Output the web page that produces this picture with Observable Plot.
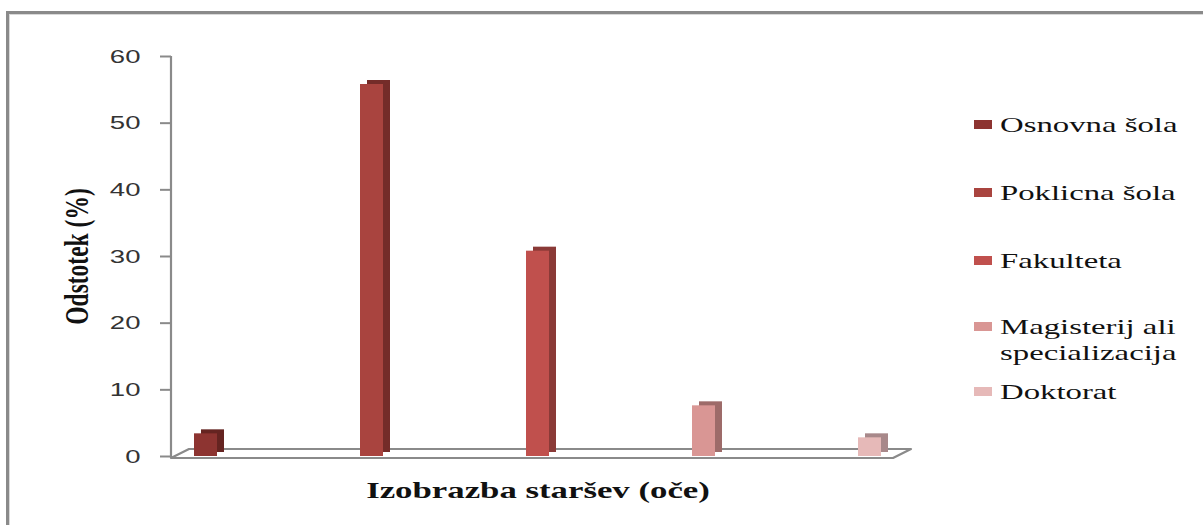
<!DOCTYPE html>
<html>
<head>
<meta charset="utf-8">
<script src="https://cdn.jsdelivr.net/npm/d3@7"></script>
<script src="https://cdn.jsdelivr.net/npm/@observablehq/plot@0.6"></script>
<style>
  html, body { margin: 0; padding: 0; background: #fff; }
  #wrap { position: relative; width: 1203px; height: 525px; overflow: hidden; background: #fff; }
  #border { position: absolute; left: 6px; top: 11px; width: 1300px; height: 600px;
            border-top: 3px solid #8a8a8a; border-left: 3px solid #8a8a8a;
            box-shadow: inset 1px 1px 0 #d9d9d9; }
  #chart { position: absolute; left: 0; top: 0; }
  .lg-item { position: absolute; left: 974px; font-family: "Liberation Serif", serif; font-size: 21px;
             line-height: 26px; color: #111; }
  .lg-sw { position: absolute; left: 0; top: 8px; width: 18px; height: 9px; }
  .lg-tx { position: absolute; left: 26px; top: 0; max-width: 125px; white-space: normal;
           transform: scaleX(1.56); transform-origin: 0 0; }
</style>
</head>
<body>
<div id="wrap">
  <div id="border"></div>
  <div id="chart"></div>
  <div id="legend"></div>
</div>
<script>
// ---- data ----
const categories = ["Osnovna šola", "Poklicna šola", "Fakulteta", "Magisterij ali specializacija", "Doktorat"];
const values = [3.4, 55.8, 30.8, 7.6, 2.8];
const yTicks = [0, 10, 20, 30, 40, 50, 60];
const xTitle = "Izobrazba staršev (oče)";
const yTitle = "Odstotek (%)";

// ---- styles ----
const frontColors = ["#8d3431", "#a9443f", "#c0504d", "#d99694", "#e6b9b8"];
const sideColors  = ["#652421", "#742c29", "#8a3a37", "#9d6b69", "#a8888a"];
const legendTops = [112, 180, 248, 314, 379];
const axisGrey = "#8a8a8a";

const data = categories.map((c, i) => ({category: c, value: values[i], i}));

function floorMark(index, scales, vals, dims) {
  const ns = "http://www.w3.org/2000/svg";
  const y0 = scales.y(0), yTop = scales.y(60);
  const xl = dims.marginLeft, xr = dims.width - dims.marginRight - 11;
  const g = document.createElementNS(ns, "g");
  const p = document.createElementNS(ns, "path");
  p.setAttribute("d", `M${xl},${yTop}V${y0 + 2}H${xr}l18,-9H${xl + 18}L${xl},${y0 + 2}`);
  p.setAttribute("fill", "none");
  p.setAttribute("stroke", axisGrey);
  p.setAttribute("stroke-width", 2.2);
  p.setAttribute("stroke-linejoin", "round");
  g.appendChild(p);
  return g;
}

const chart = Plot.plot({
  width: 1203,
  height: 525,
  marginLeft: 171,
  marginRight: 299,
  marginTop: 56,
  marginBottom: 69,
  style: {background: "transparent", overflow: "visible"},
  x: {domain: categories, paddingInner: 0.862, paddingOuter: 0.132, axis: null},
  y: {domain: [0, 60], axis: null},
  marks: [
    floorMark,
    Plot.axisY(yTicks, {
      anchor: "left", tickSize: 11, tickPadding: 20, label: null,
      stroke: axisGrey, strokeWidth: 2, fill: "#333",
      fontSize: 19, fontFamily: "Liberation Sans, sans-serif"
    }),
    Plot.barY(data, {x: "category", y: "value", fill: d => sideColors[d.i], dx: 7, dy: -4}),
    Plot.barY(data, {x: "category", y: "value", fill: d => frontColors[d.i]}),
    Plot.text([xTitle], {
      frameAnchor: "bottom", lineAnchor: "middle", textAnchor: "middle", dy: 34,
      fontSize: 23.5, fontWeight: "bold", fontFamily: "Liberation Serif, serif", fill: "#111"
    }),
    Plot.text([yTitle], {
      frameAnchor: "left", rotate: -90, dx: -94, lineAnchor: "middle", textAnchor: "middle",
      fontSize: 23.5, fontWeight: "bold", fontFamily: "Liberation Serif, serif", fill: "#111"
    })
  ]
});
document.getElementById("chart").appendChild(chart);

// horizontal stretch of glyphs about the text's own anchor point
function stretch(t, sx, sy) {
  const px = parseFloat(t.getAttribute("x")) || 0;
  const tr = t.getAttribute("transform") || "";
  t.setAttribute("transform", `${tr} translate(${px},0) scale(${sx},${sy}) translate(${-px},0)`);
}
const tickSet = new Set(yTicks.map(String));
chart.querySelectorAll("text").forEach(t => {
  const s = t.textContent.trim();
  if (s === xTitle) stretch(t, 1.48, 1);
  else if (s === yTitle) stretch(t, 1, 1.44);
  else if (tickSet.has(s)) stretch(t, 1.45, 1);
});

// ---- legend ----
const legend = document.getElementById("legend");
categories.forEach((c, i) => {
  const item = document.createElement("div");
  item.className = "lg-item";
  item.style.top = legendTops[i] + "px";
  const sw = document.createElement("span");
  sw.className = "lg-sw";
  sw.style.background = frontColors[i];
  const tx = document.createElement("span");
  tx.className = "lg-tx";
  tx.style.display = "block";
  tx.style.width = "125px";
  tx.textContent = c;
  item.appendChild(sw);
  item.appendChild(tx);
  legend.appendChild(item);
});
</script>
</body>
</html>
